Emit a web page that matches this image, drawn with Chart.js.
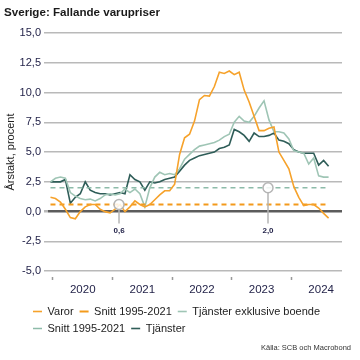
<!DOCTYPE html>
<html>
<head>
<meta charset="utf-8">
<script src="https://cdn.jsdelivr.net/npm/chart.js@4.4.1/dist/chart.umd.min.js"></script>
<style>
  html, body { margin: 0; padding: 0; background: #fff; }
  #wrap { width: 360px; height: 360px; }
</style>
</head>
<body>
<div id="wrap"><canvas id="chart" width="360" height="360"></canvas></div>
<script>
// månader, dec 2019 - aug 2024
const months = [
  "2019-12",
  "2020-01","2020-02","2020-03","2020-04","2020-05","2020-06","2020-07","2020-08","2020-09","2020-10","2020-11","2020-12",
  "2021-01","2021-02","2021-03","2021-04","2021-05","2021-06","2021-07","2021-08","2021-09","2021-10","2021-11","2021-12",
  "2022-01","2022-02","2022-03","2022-04","2022-05","2022-06","2022-07","2022-08","2022-09","2022-10","2022-11","2022-12",
  "2023-01","2023-02","2023-03","2023-04","2023-05","2023-06","2023-07","2023-08","2023-09","2023-10","2023-11","2023-12",
  "2024-01","2024-02","2024-03","2024-04","2024-05","2024-06","2024-07","2024-08"
];

const varor = [1.2, 1.1, 0.8, 0.2, -0.5, -0.6, 0.0, 0.4, 0.6, 0.6, 0.2, 0.0, -0.1,
  0.2, 0.6, 0.0, 0.4, 0.9, 0.6, 0.4, 0.6, 1.0, 1.4, 1.75, 1.75,
  2.3, 4.8, 6.2, 6.5, 7.6, 9.4, 9.75, 9.7, 10.5, 11.7, 11.6, 11.8,
  11.5, 11.7, 10.2, 9.2, 8.0, 6.8, 6.8, 7.0, 7.1, 5.0, 4.3, 3.6,
  2.1, 1.2, 0.5, 0.6, 0.6, 0.3, -0.15, -0.55];

const tjansterExklBoende = [2.5, 2.8, 2.9, 2.8, 1.6, 1.3, 1.1, 1.0, 1.05, 0.9, 1.1, 1.4, 1.5,
  1.4, 1.5, 1.9, 1.6, 1.9, 1.5, 0.4, 2.0, 2.9, 3.3, 3.1, 3.2,
  3.1, 3.6, 4.4, 4.8, 5.2, 5.5, 5.6, 5.7, 5.8, 6.0, 6.3, 6.5,
  7.5, 8.0, 7.6, 7.5, 8.0, 8.7, 9.3, 7.7, 6.7, 6.7, 6.6, 6.1,
  5.1, 5.0, 4.9, 4.0, 4.5, 3.0, 2.9, 2.9];

const tjanster = [2.5, 2.5, 2.5, 2.7, 0.7, 1.2, 1.5, 2.5, 1.8, 1.6, 1.5, 1.5, 1.4,
  1.5, 1.6, 1.5, 3.1, 2.7, 2.5, 1.8, 2.5, 2.4, 2.5, 2.7, 2.8,
  2.9, 3.4, 3.9, 4.3, 4.5, 4.7, 4.8, 4.9, 5.0, 5.3, 5.4, 5.6,
  6.9, 6.7, 6.4, 5.9, 6.6, 6.3, 6.3, 6.4, 6.6, 6.0, 5.9, 5.7,
  5.2, 5.0, 4.9, 4.9, 4.9, 3.9, 4.3, 3.8];

// snitt 1995-2021
const snittVaror = 0.6;
const snittTjanster = 2.0;

// markeringar på snittlinjerna
const markerMonths = ["2021-02", "2023-08"];
const markerValues = [0.6, 2.0];
const markerTexts = ["0,6", "2,0"];

const years = ["2020", "2021", "2022", "2023", "2024"];
const yTicks = [-5, -2.5, 0, 2.5, 5, 7.5, 10, 12.5, 15];

const ORANGE = "#f6a22b";
const LIGHT = "#9fc5b5";
const DARK = "#2f5d58";
const TEXT = "#24244a";
const FONT = "'Liberation Sans', Arial, sans-serif";

// månad -> x (månader från jan 2020, mitt i månaden)
const toX = m => {
  const [yy, mm] = m.split("-").map(Number);
  return (yy - 2020) * 12 + (mm - 1) + 0.5;
};
const xs = months.map(toX);
const pts = arr => arr.map((v, i) => ({ x: xs[i], y: v }));
const flat = v => xs.map(x => ({ x, y: v }));

// årsgränser (streck) + årsmitt (etiketter)
const xTicks = [];
years.forEach((y, i) => { xTicks.push(i * 12); xTicks.push(i * 12 + 6); });

const line = (label, data, color, width, dash) => ({
  label, data,
  borderColor: color, backgroundColor: color,
  borderWidth: width, borderDash: dash || [],
  pointRadius: 0, tension: 0, fill: false
});

const moveLegend = {
  id: "moveLegend",
  afterLayout(chart) { chart.legend.left = 27; }
};

const notes = {
  id: "notes",
  afterDatasetsDraw(chart) {
    const { ctx, scales: { x, y } } = chart;
    ctx.save();
    markerMonths.forEach((m, i) => {
      const px = x.getPixelForValue(toX(m) - 0.2);
      const py = y.getPixelForValue(markerValues[i]);
      const bottom = y.getPixelForValue(-1.0);
      ctx.strokeStyle = "#b5b5b5";
      ctx.lineWidth = 1.5;
      ctx.beginPath();
      ctx.moveTo(px, py + 5);
      ctx.lineTo(px, bottom);
      ctx.stroke();
      ctx.beginPath();
      ctx.arc(px, py, 5, 0, Math.PI * 2);
      ctx.fillStyle = "rgba(255,255,255,0.85)";
      ctx.fill();
      ctx.stroke();
      ctx.fillStyle = TEXT;
      ctx.font = "bold 8px " + FONT;
      ctx.textAlign = "center";
      ctx.textBaseline = "top";
      ctx.fillText(markerTexts[i], px, bottom + 3);
    });
    ctx.fillStyle = "#333";
    ctx.font = "7.5px " + FONT;
    ctx.textAlign = "right";
    ctx.textBaseline = "middle";
    ctx.fillText("Källa: SCB och Macrobond", 351, 348);
    ctx.restore();
  }
};

new Chart(document.getElementById("chart"), {
  type: "line",
  data: {
    datasets: [
      line("Varor", pts(varor), ORANGE, 1.6),
      line("Snitt 1995-2021", flat(snittVaror), "#f39a1c", 2, [5, 4]),
      line("Tjänster exklusive boende", pts(tjansterExklBoende), LIGHT, 1.6),
      line("Snitt 1995-2021", flat(snittTjanster), "#8dbba9", 1.5, [5, 4]),
      line("Tjänster", pts(tjanster), DARK, 1.6)
    ]
  },
  options: {
    responsive: false,
    animation: false,
    events: [],
    layout: { padding: { left: 4, right: 18, top: 4, bottom: 16 } },
    plugins: {
      title: {
        display: true,
        text: "Sverige: Fallande varupriser",
        align: "start",
        color: "#1a1a1a",
        font: { family: FONT, size: 11.6, weight: "bold" },
        padding: { top: 2, bottom: 13 }
      },
      legend: {
        position: "bottom",
        align: "start",
        labels: {
          usePointStyle: true,
          pointStyle: "line",
          pointStyleWidth: 9,
          padding: 6,
          color: "#222",
          font: { family: FONT, size: 11 }
        }
      },
      tooltip: { enabled: false }
    },
    scales: {
      x: {
        type: "linear",
        min: -1,
        max: 58.2,
        afterBuildTicks: s => { s.ticks = xTicks.map(v => ({ value: v })); },
        afterFit: s => { s.height += 1; },
        ticks: {
          autoSkip: false,
          maxRotation: 0,
          padding: 2,
          color: TEXT,
          font: { family: FONT, size: 11.5 },
          callback: v => (v % 12 === 6 ? years[(v - 6) / 12] : "")
        },
        grid: {
          drawOnChartArea: false,
          drawTicks: true,
          tickLength: 10,
          tickWidth: 1.5,
          tickBorderDash: [0, 6, 3, 20],
          tickColor: c => (c.tick && c.tick.value % 12 === 0 ? "#999" : "rgba(0,0,0,0)")
        },
        border: { display: false }
      },
      y: {
        min: -5,
        max: 15,
        afterBuildTicks: s => { s.ticks = yTicks.map(v => ({ value: v })); },
        afterFit: s => { s.width = 44; },
        ticks: {
          padding: 3,
          color: TEXT,
          font: { family: FONT, size: 11 },
          callback: v => v.toFixed(1).replace(".", ",")
        },
        grid: {
          color: c => (c.tick && c.tick.value === 0 ? "#5c5c5c" : "#b9b9b9"),
          lineWidth: c => (c.tick && c.tick.value === 0 ? 2.5 : 1.5),
          tickColor: "#b9b9b9",
          tickLength: 4
        },
        border: { display: false },
        title: {
          display: true,
          text: "Årstakt, procent",
          color: "#222",
          font: { family: FONT, size: 11 },
          padding: 0
        }
      }
    }
  },
  plugins: [moveLegend, notes]
});
</script>
</body>
</html>
